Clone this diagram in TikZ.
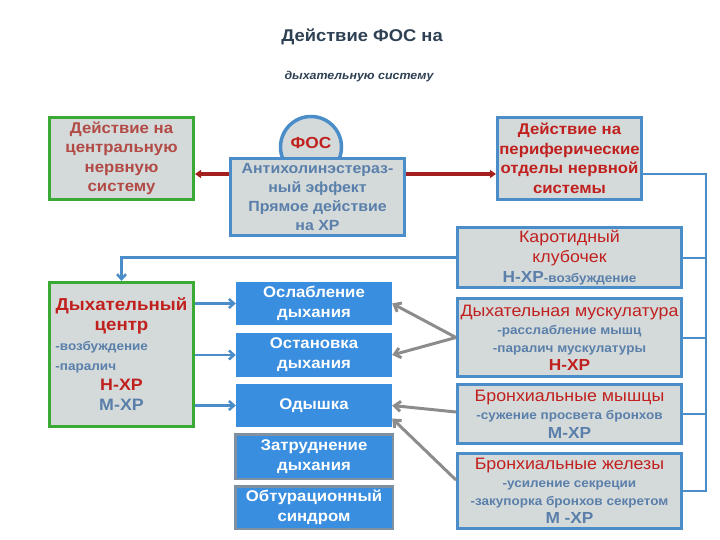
\documentclass[tikz,border=0pt]{standalone}
\usepackage{fontspec}
\setmainfont{Liberation Sans}[FakeStretch=1.08]
\usepackage{xcolor}
\usetikzlibrary{arrows.meta, positioning}

\definecolor{boxgray}{HTML}{D4DADA}
\definecolor{lineblue}{HTML}{4A8DC8}
\definecolor{boxgreen}{HTML}{3AAA35}
\definecolor{fillblue}{HTML}{3A8EE0}
\definecolor{edgegray}{HTML}{7F90A2}
\definecolor{redt}{HTML}{C0201E}
\definecolor{brownt}{HTML}{B24A45}
\definecolor{bluet}{HTML}{5A7FAA}
\definecolor{titlec}{HTML}{2E4053}
\definecolor{arrred}{HTML}{A3201F}
\definecolor{arrgray}{HTML}{8C8C8C}

\newcommand{\fsz}[2]{\fontsize{#1}{#2}\selectfont}
\newcommand{\smallblue}[1]{\textcolor{bluet}{\fsz{12.5}{18}\bfseries #1}}

\begin{document}
\begin{tikzpicture}[x=1pt, y=-1pt,
  graybox/.style={draw=lineblue, fill=boxgray, line width=3pt, rectangle, inner sep=0pt, align=center},
  greenbox/.style={graybox, draw=boxgreen},
  bluebox/.style={fill=fillblue, text=white, rectangle, inner sep=0pt, align=center, font=\fsz{15.5}{20}\bfseries},
  edgebox/.style={bluebox, draw=edgegray, line width=2.5pt},
  link/.style={draw=lineblue, line width=2pt},
  redarr/.style={draw=arrred, line width=3.5pt, -{Triangle[length=6pt, width=8pt]}},
  bluearr/.style={draw=lineblue, line width=2.5pt, -{Straight Barb[length=5pt, width=9pt]}},
  grayarr/.style={draw=arrgray, line width=3pt, -{Straight Barb[length=6pt, width=10pt]}}]
  \useasboundingbox (0,0) rectangle (720,540);

  \node[text=titlec, font=\fsz{17}{20}\bfseries] (title) at (362,37) {Действие ФОС на};
  \node[text=titlec, font=\fsz{11.5}{14}\bfseries\itshape] (subtitle) at (359,77) {дыхательную систему};

  \node[greenbox, minimum width=144, minimum height=82, text=brownt, font=\fsz{15.5}{19.5}\bfseries] (cns) at (121.5,158.5)
    {Действие на\\центральную\\нервную\\систему};
  \node[graybox, circle, minimum size=61, line width=3.5pt, text=redt, font=\fsz{16}{18}\bfseries] (fos) at (311,147) {\raisebox{9pt}{ФОС}};
  \node[graybox, minimum width=174, minimum height=77, text=bluet, font=\fsz{14.7}{19}\bfseries] (anti) at (317.5,197)
    {Антихолинэстераз-\\ный эффект\\Прямое действие\\на ХР};
  \node[graybox, minimum width=144, minimum height=82, text=redt, font=\fsz{15.5}{19.5}\bfseries] (periph) at (569.5,158.5)
    {Действие на\\периферические\\отделы нервной\\системы};

  \node[graybox, minimum width=224, minimum height=60, text=redt, font=\fsz{16.5}{20}] (karot) at (569.5,257.5)
    {Каротидный\\клубочек\\\textcolor{bluet}{\bfseries\fsz{16}{20}Н-ХР{\fsz{12.5}{13}-возбуждение}}};
  \node[graybox, minimum width=224, minimum height=78, text=redt, font=\fsz{16.5}{18}] (musc) at (569.5,337.5)
    {Дыхательная мускулатура\\\smallblue{-расслабление мышц}\\\smallblue{-паралич мускулатуры}\\{\bfseries\fsz{16}{18}Н-ХР}};
  \node[graybox, minimum width=224, minimum height=59, text=redt, font=\fsz{16.5}{18.5}] (bronm) at (569.5,414)
    {Бронхиальные мышцы\\\smallblue{-сужение просвета бронхов}\\\textcolor{bluet}{\bfseries\fsz{16}{18}М-ХР}};
  \node[graybox, minimum width=224, minimum height=75, text=redt, font=\fsz{16.5}{18}] (zhel) at (569.5,491)
    {Бронхиальные железы\\\smallblue{-усиление секреции}\\\smallblue{-закупорка бронхов секретом}\\\textcolor{bluet}{\bfseries\fsz{16}{18}М -ХР}};

  \node[greenbox, minimum width=144, minimum height=144, text=redt, font=\fsz{16.5}{20}\bfseries] (dc) at (121.5,354.5)
    {\fsz{17.3}{21}Дыхательный\\\fsz{17.3}{21}центр\\\makebox[132pt][l]{\textcolor{bluet}{\fsz{12.5}{16}-возбуждение}}\\\makebox[132pt][l]{\textcolor{bluet}{\fsz{12.5}{16}-паралич}}\\Н-ХР\\\textcolor{bluet}{М-ХР}};

  \node[bluebox, minimum width=156, minimum height=43] (osl) at (314,303.5) {Ослабление\\дыхания};
  \node[bluebox, minimum width=156, minimum height=44] (ost) at (314,355) {Остановка\\дыхания};
  \node[bluebox, minimum width=156, minimum height=43] (od) at (314,405.5) {Одышка};
  \node[edgebox, minimum width=157.5, minimum height=44.5] (zatr) at (314,456.5) {Затруднение\\дыхания};
  \node[edgebox, minimum width=157.5, minimum height=42.5] (obt) at (314,507.5) {Обтурационный\\синдром};

  \draw[redarr] ([yshift=23pt]anti.west) -- ([yshift=-15.5pt]cns.east);
  \draw[redarr] ([yshift=23pt]anti.east) -- ([yshift=-15.5pt]periph.west);

  \draw[link] ([yshift=-15.5pt]periph.east) -- ++(63,0) coordinate (rail) |- (zhel.east);
  \foreach \n in {karot, musc, bronm}
    \draw[link] (\n.east) -- (\n.east -| rail);
  \draw[bluearr] (karot.west) -| (dc.north);

  \foreach \n in {osl, ost, od}
    \draw[bluearr] (dc.east |- \n.west) -- (\n.west);

  \draw[grayarr] (musc.west) -- (osl.east);
  \draw[grayarr] (musc.west) -- (ost.east);
  \draw[grayarr] ([yshift=2pt]bronm.west) -- (od.east);
  \draw[grayarr] ([yshift=11pt]zhel.west) -- ([yshift=-13pt]od.east);

\end{tikzpicture}
\end{document}
